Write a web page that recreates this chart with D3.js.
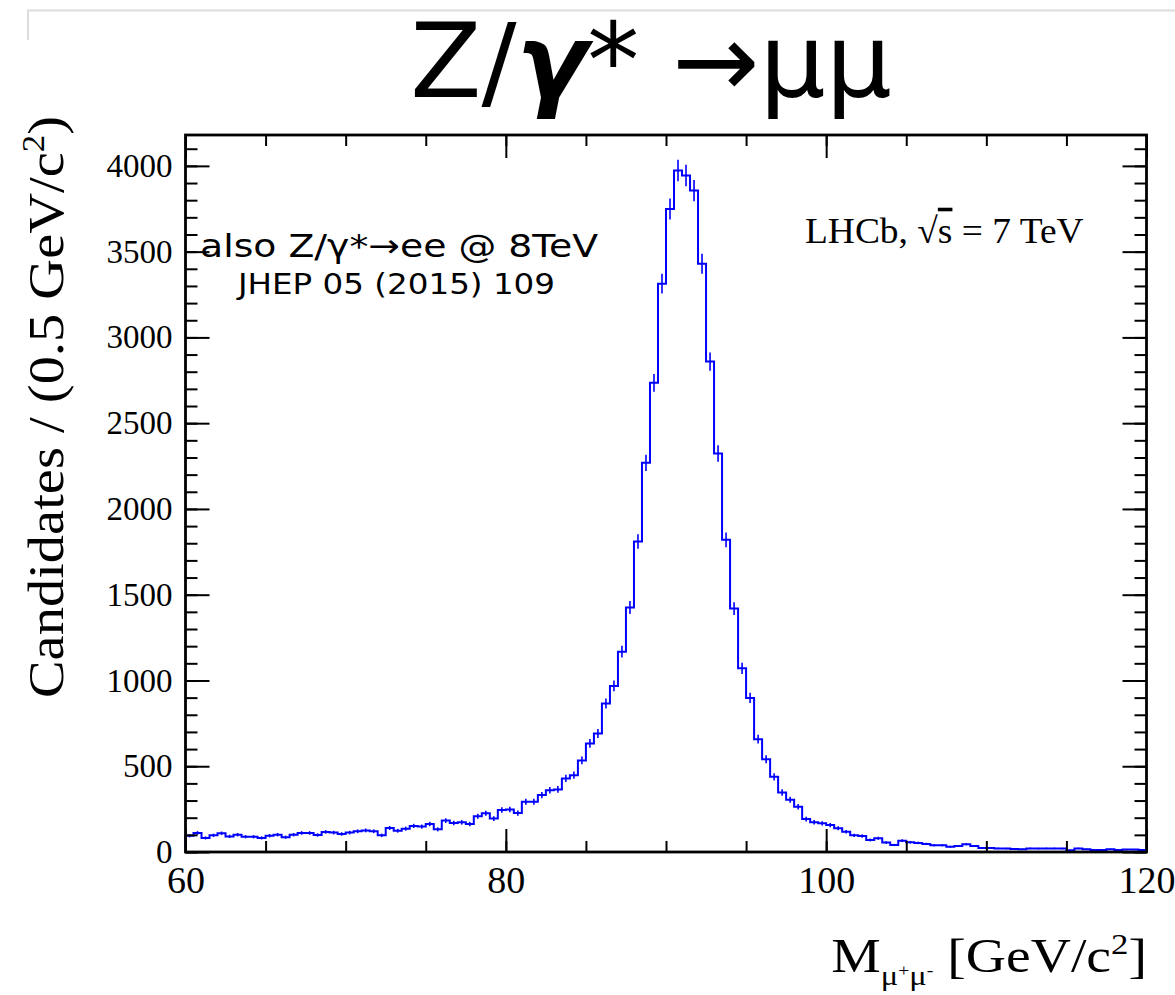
<!DOCTYPE html>
<html>
<head>
<meta charset="utf-8">
<script src="https://cdn.jsdelivr.net/npm/d3@7/dist/d3.min.js"></script>
<style>
  html, body { margin: 0; padding: 0; background: #fff; }
</style>
</head>
<body>
<div id="chart"></div>
<script>
// binning of the dimuon mass histogram
const massRange = [60, 120]
const binWidth = 0.5

// candidates per 0.5 GeV/c2 bin (60 -> 120)
const candidates = [
  95, 111, 82, 97, 109, 91, 101, 89, 89, 82,
  95, 101, 86, 101, 111, 111, 99, 117, 113, 105,
  113, 121, 126, 121, 97, 140, 124, 136, 152, 148,
  163, 132, 183, 169, 173, 163, 208, 226, 195, 245,
  248, 227, 293, 293, 332, 360, 365, 429, 448, 534,
  633, 691, 866, 968, 1168, 1425, 1810, 2269, 2735, 3313,
  3748, 3973, 3944, 3856, 3429, 2859, 2323, 1820, 1419, 1071,
  898, 658, 541, 438, 347, 305, 264, 192, 173, 167,
  157, 138, 118, 97, 93, 70, 80, 55, 41, 66,
  57, 53, 47, 39, 39, 31, 35, 45, 35, 23,
  23, 21, 20, 18, 16, 21, 20, 21, 21, 20,
  10, 21, 16, 12, 12, 16, 12, 14, 14, 12
]

const xTickLabels = [60, 80, 100, 120]
const yTickLabels = [0, 500, 1000, 1500, 2000, 2500, 3000, 3500, 4000]

class MassHistogram {
  constructor (parentSelector, chartWidth, chartHeight) {
    this.chartWidth = chartWidth
    this.chartHeight = chartHeight
    this.frame = { left: 185.5, right: 1146.5, top: 135, bottom: 852 }
    this.yMax = 4180
    this.lineColor = '#0000ff'
    this.serif = '"Liberation Serif", "Times New Roman", serif'
    this.sans = '"DejaVu Sans", sans-serif'

    this.chart = d3
      .select(parentSelector)
      .append('svg')
      .attr('width', this.chartWidth)
      .attr('height', this.chartHeight)
      .style('display', 'block')

    this.x = d3
      .scaleLinear()
      .domain(massRange)
      .range([this.frame.left, this.frame.right])

    this.y = d3
      .scaleLinear()
      .domain([0, this.yMax])
      .range([this.frame.bottom, this.frame.top])
  }

  create (data) {
    const chart = this.chart
    const f = this.frame

    // slide border in the top left corner
    chart
      .append('path')
      .attr('d', `M28,40 V10.5 H${this.chartWidth}`)
      .attr('fill', 'none')
      .attr('stroke', '#dcdcdc')
      .attr('stroke-width', 2)

    const bins = data.map((v, i) => ({
      lo: massRange[0] + i * binWidth,
      hi: massRange[0] + (i + 1) * binWidth,
      value: v
    }))

    // histogram outline, closed down to zero on both ends
    const outline = [[massRange[0], 0]]
    bins.forEach(b => {
      outline.push([b.lo, b.value])
      outline.push([b.hi, b.value])
    })
    outline.push([massRange[1], 0])

    const line = d3
      .line()
      .x(d => this.x(d[0]))
      .y(d => this.y(d[1]))

    const plot = chart.append('g').classed('histogram', true)

    plot
      .append('path')
      .datum(outline)
      .attr('fill', 'none')
      .attr('stroke', this.lineColor)
      .attr('stroke-width', 2)
      .attr('d', line)

    // poisson error bars
    plot
      .selectAll('line.err')
      .data(bins)
      .enter()
      .append('line')
      .classed('err', true)
      .attr('x1', d => this.x((d.lo + d.hi) / 2))
      .attr('x2', d => this.x((d.lo + d.hi) / 2))
      .attr('y1', d => this.y(d.value - Math.sqrt(d.value)))
      .attr('y2', d => this.y(Math.min(this.yMax, d.value + Math.sqrt(d.value))))
      .attr('stroke', this.lineColor)
      .attr('stroke-width', 1.6)

    this.drawAxes()

    // frame
    chart
      .append('rect')
      .attr('x', f.left)
      .attr('y', f.top)
      .attr('width', f.right - f.left)
      .attr('height', f.bottom - f.top)
      .attr('fill', 'none')
      .attr('stroke', '#000')
      .attr('stroke-width', 2.8)

    this.drawTexts()
  }

  drawAxes () {
    const f = this.frame
    const xMinor = d3.range(massRange[0], massRange[1] + 0.1, 5)
    const yMinor = d3.range(0, this.yMax, 100)

    const __addAxis = (axis, transform, labelSize) => {
      const g = this.chart
        .append('g')
        .attr('transform', transform)
        .call(axis)
      g.select('.domain').remove()
      g.selectAll('.tick line')
        .attr('stroke', '#000')
        .attr('stroke-width', 2)
      if (labelSize) {
        g.selectAll('.tick text')
          .attr('fill', '#000')
          .style('font-family', this.serif)
          .style('font-size', labelSize)
      } else {
        g.selectAll('.tick text').remove()
      }
      return g
    }

    // x axes, bottom and top
    __addAxis(d3.axisBottom(this.x).tickValues(xMinor).tickSize(-11), `translate(0, ${f.bottom})`)
    __addAxis(
      d3.axisBottom(this.x).tickValues(xTickLabels).tickSize(-23).tickPadding(14).tickFormat(d3.format('d')),
      `translate(0, ${f.bottom})`,
      '38px'
    )
    __addAxis(d3.axisTop(this.x).tickValues(xMinor).tickSize(-11), `translate(0, ${f.top})`)
    __addAxis(d3.axisTop(this.x).tickValues(xTickLabels).tickSize(-23), `translate(0, ${f.top})`)

    // y axes, left and right
    __addAxis(d3.axisLeft(this.y).tickValues(yMinor).tickSize(-12), `translate(${f.left}, 0)`)
    __addAxis(
      d3.axisLeft(this.y).tickValues(yTickLabels).tickSize(-24).tickPadding(13).tickFormat(d3.format('d')),
      `translate(${f.left}, 0)`,
      '33px'
    )
    __addAxis(d3.axisRight(this.y).tickValues(yMinor).tickSize(-12), `translate(${f.right}, 0)`)
    __addAxis(d3.axisRight(this.y).tickValues(yTickLabels).tickSize(-24), `translate(${f.right}, 0)`)
  }

  drawTexts () {
    const chart = this.chart

    // title
    const title = chart
      .append('text')
      .attr('x', 651)
      .attr('y', 97)
      .attr('text-anchor', 'middle')
      .style('font-family', this.sans)
      .style('font-size', '104px')
    title.append('tspan').text('Z/')
    title.append('tspan').style('font-style', 'italic').style('font-weight', 'bold').text('γ')
    title.append('tspan').text('* →μμ')

    // left annotation
    chart
      .append('text')
      .attr('x', 200)
      .attr('y', 257)
      .attr('textLength', 398)
      .attr('lengthAdjust', 'spacingAndGlyphs')
      .style('font-family', this.sans)
      .style('font-size', '32px')
      .text('also Z/γ*→ee @ 8TeV')
    chart
      .append('text')
      .attr('x', 238)
      .attr('y', 294)
      .attr('textLength', 317)
      .attr('lengthAdjust', 'spacingAndGlyphs')
      .style('font-family', this.sans)
      .style('font-size', '29px')
      .text('JHEP 05 (2015) 109')

    // experiment label
    const lhcb = chart
      .append('text')
      .attr('transform', 'translate(805, 243) scale(1.04, 1)')
      .style('font-family', this.serif)
      .style('font-size', '36px')
    lhcb.append('tspan').text('LHCb, √')
    lhcb.append('tspan').style('text-decoration', 'overline').text('s')
    lhcb.append('tspan').text(' = 7 TeV')

    // y axis title, stretched along its length like the original
    const yTitle = chart
      .append('text')
      .attr('transform', 'translate(63, 407) rotate(-90) scale(1.13, 1)')
      .attr('text-anchor', 'middle')
      .style('font-family', this.serif)
      .style('font-size', '50px')
    yTitle.append('tspan').text('Candidates / (0.5 GeV/c')
    yTitle.append('tspan').attr('dy', -19).style('font-size', '31px').text('2')
    yTitle.append('tspan').attr('dy', 19).text(')')

    // x axis title
    const xTitle = chart
      .append('text')
      .attr('transform', 'translate(1147, 972) scale(1.16, 1)')
      .attr('text-anchor', 'end')
      .style('font-family', this.serif)
      .style('font-size', '48px')
    xTitle.append('tspan').text('M')
    xTitle.append('tspan').attr('dy', 13).style('font-size', '28px').text('μ')
    xTitle.append('tspan').attr('dy', -9).style('font-size', '17px').text('+')
    xTitle.append('tspan').attr('dy', 9).style('font-size', '28px').text('μ')
    xTitle.append('tspan').attr('dy', -9).style('font-size', '17px').text('-')
    xTitle.append('tspan').attr('dy', -4).text(' [GeV/c')
    xTitle.append('tspan').attr('dy', -18).style('font-size', '30px').text('2')
    xTitle.append('tspan').attr('dy', 18).text(']')
  }
}

const histogram = new MassHistogram('#chart', 1175, 995)
histogram.create(candidates)
</script>
</body>
</html>
